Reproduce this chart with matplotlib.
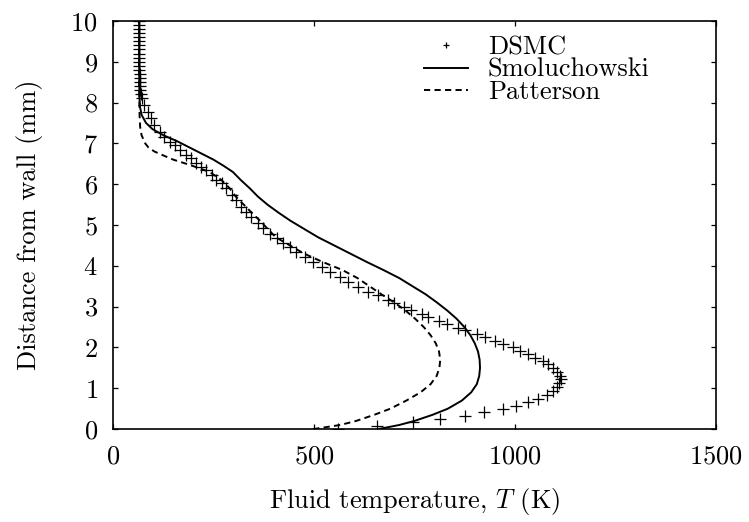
import matplotlib
matplotlib.use("Agg")
import matplotlib.pyplot as plt

plt.rcParams["font.family"] = "cmr10"
plt.rcParams["mathtext.fontset"] = "cm"
plt.rcParams["axes.formatter.use_mathtext"] = True

# DSMC samples (temperature K, distance mm)
dsmc_T = [560, 656, 746, 813, 876, 923, 971, 1003, 1033, 1058, 1080, 1095, 1105,
          1110, 1115, 1113, 1105, 1095, 1083, 1070, 1050, 1033, 1013, 995, 971,
          951, 926, 906, 876, 858, 831, 811, 784, 769, 741, 724, 700, 685, 660,
          635, 610, 585, 564, 540, 519, 498, 477, 456, 440, 423, 407, 390, 374,
          361, 344, 332, 319, 307, 295, 282, 270, 257, 245, 232, 220, 207, 195,
          182, 166, 153, 141, 128, 116, 103, 95, 87, 78, 72, 69, 68, 67, 66.5,
          66, 66, 65.5, 65.5, 65.5, 65, 65, 65, 65, 65, 65, 65, 65, 65, 65]
dsmc_y = [0.01, 0.07, 0.17, 0.245, 0.32, 0.42, 0.49, 0.56, 0.66, 0.73, 0.83,
          0.93, 1.03, 1.13, 1.22, 1.30, 1.40, 1.49, 1.59, 1.67, 1.74, 1.84, 1.91,
          2.01, 2.08, 2.16, 2.25, 2.33, 2.42, 2.47, 2.57, 2.65, 2.74, 2.82, 2.91,
          2.99, 3.09, 3.16, 3.28, 3.36, 3.49, 3.61, 3.73, 3.85, 3.98, 4.10, 4.22,
          4.34, 4.45, 4.55, 4.67, 4.79, 4.92, 5.04, 5.20, 5.32, 5.44, 5.61, 5.73,
          5.90, 6.02, 6.10, 6.22, 6.34, 6.42, 6.51, 6.63, 6.71, 6.83, 6.96, 7.04,
          7.16, 7.28, 7.45, 7.61, 7.77, 7.94, 8.10, 8.20, 8.30, 8.40, 8.50, 8.60,
          8.70, 8.80, 8.90, 9.00, 9.10, 9.20, 9.30, 9.40, 9.50, 9.60, 9.70, 9.80,
          9.90, 10.0]

# Smoluchowski model
smol_T = [660, 712, 750, 795, 833, 868, 891, 905, 911, 913, 912, 908, 900, 889,
          874, 855, 832, 806, 778, 745, 712, 672, 630, 590, 550, 510, 476, 442,
          412, 384, 360, 340, 318, 298, 275, 250, 220, 190, 160, 125, 98, 82, 71,
          67, 65.5, 65]
smol_y = [0.0, 0.1, 0.2, 0.35, 0.5, 0.7, 0.9, 1.1, 1.3, 1.5, 1.7, 1.9, 2.1, 2.3,
          2.5, 2.7, 2.9, 3.1, 3.3, 3.5, 3.7, 3.9, 4.1, 4.3, 4.5, 4.7, 4.9, 5.1,
          5.3, 5.5, 5.7, 5.9, 6.1, 6.3, 6.45, 6.6, 6.75, 6.9, 7.05, 7.2, 7.35,
          7.5, 7.7, 7.9, 8.2, 10.0]

# Patterson model
patt_T = [498, 565, 605, 650, 690, 730, 765, 790, 805, 812, 814, 811, 803, 790,
          773, 752, 728, 700, 668, 638, 608, 570, 520, 475, 440, 405, 385, 366,
          345, 325, 305, 290, 270, 240, 212, 182, 150, 126, 103, 88, 80, 71,
          67.5, 66, 65, 65]
patt_y = [0.0, 0.1, 0.2, 0.35, 0.5, 0.7, 0.9, 1.1, 1.3, 1.5, 1.7, 1.9, 2.1, 2.3,
          2.5, 2.7, 2.9, 3.1, 3.3, 3.5, 3.7, 3.9, 4.1, 4.3, 4.5, 4.7, 4.9, 5.1,
          5.3, 5.5, 5.7, 5.9, 6.1, 6.3, 6.4, 6.5, 6.6, 6.7, 6.8, 6.9, 7.0, 7.2,
          7.4, 7.7, 8.5, 10.0]

fig = plt.figure(figsize=(7.49, 5.22), dpi=100)
ax = fig.add_axes([0.1509, 0.178, 0.805, 0.782])

ax.plot(dsmc_T, dsmc_y, linestyle="none", marker="+", markersize=8,
        markeredgewidth=0.9, color="black", label="DSMC")
ax.plot(smol_T, smol_y, "-", color="black", linewidth=1.4, label="Smoluchowski")
ax.plot(patt_T, patt_y, color="black", linewidth=1.4, dashes=(3.2, 2.2),
        label="Patterson")

ax.set_xlim(0, 1500)
ax.set_ylim(0, 10)
ax.set_xticks([0, 500, 1000, 1500])
ax.set_yticks(range(0, 11))
ax.tick_params(direction="in", length=3.5, width=0.9, top=True, right=True,
               labelsize=19)
ax.tick_params(axis="x", pad=11)
ax.tick_params(axis="y", pad=11)
for s in ax.spines.values():
    s.set_linewidth(1.2)

ax.set_xlabel("Fluid temperature, $T$ (K)", fontsize=19, labelpad=13)
ax.set_ylabel("Distance from wall (mm)", fontsize=19, labelpad=20)

ax.legend(loc="upper left", bbox_to_anchor=(0.477, 1.022), frameon=False,
          fontsize=19, handlelength=1.65, handletextpad=0.75,
          labelspacing=-0.05, markerscale=0.55)

fig.savefig("out.png", dpi=100)
